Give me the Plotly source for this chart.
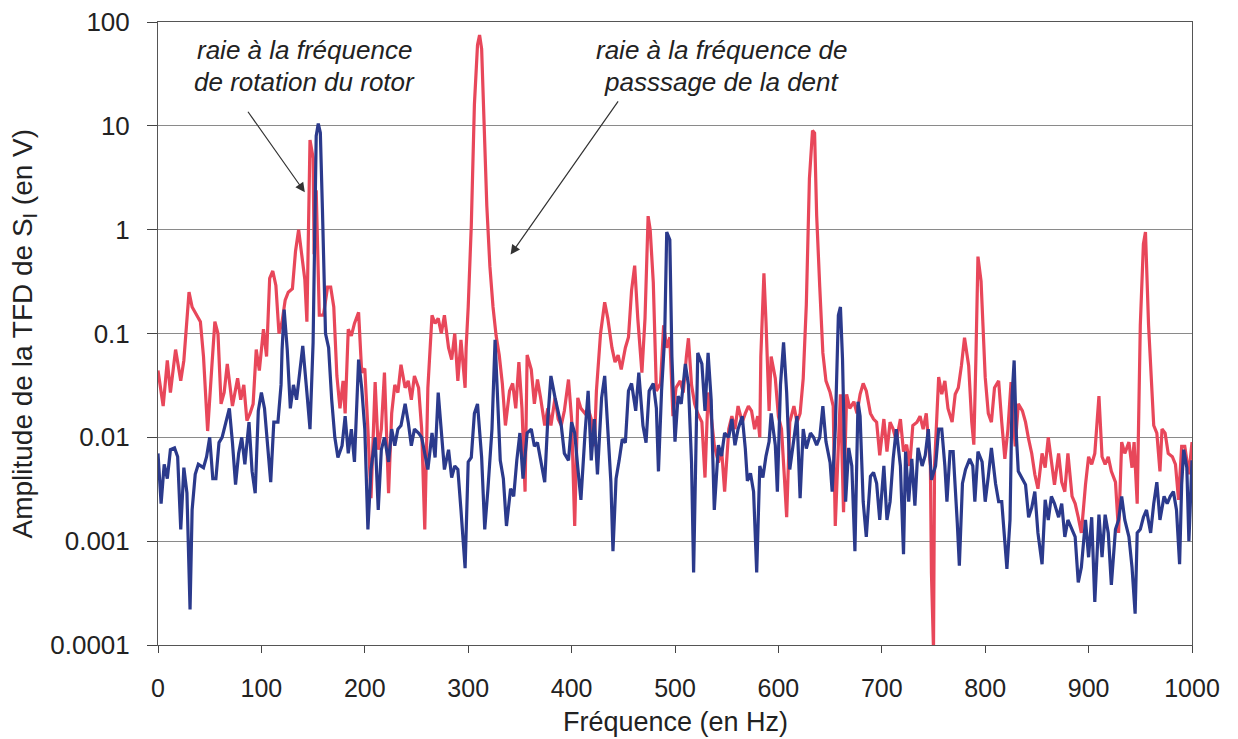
import plotly.graph_objects as go

# ---- data (frequency in Hz, amplitude in V) ----
red_freq = [0, 5, 9, 12, 17, 22, 25, 30, 33, 37, 41, 44, 48, 52, 55, 58, 61, 64, 67, 72, 77, 80, 83, 86, 89, 92, 95, 98,
            102, 105, 108, 111, 114, 117, 120, 123, 126, 130, 133, 136, 139, 142, 144, 145, 147, 150, 151, 153, 156,
            160, 164, 167, 170, 173, 176, 179, 181, 184, 187, 190, 194, 197, 200, 203, 206, 210, 213, 216, 219, 223,
            226, 229, 232, 235, 239, 242, 245, 248, 252, 255, 258, 261, 265, 268, 271, 274, 277, 281, 284, 287, 290,
            293, 297, 298, 300, 303, 306, 309, 311, 313, 315, 318, 321, 324, 327, 330, 333, 336, 340, 343, 346, 349,
            352, 355, 357, 361, 364, 367, 370, 374, 377, 380, 384, 387, 390, 393, 397, 400, 403, 406, 409, 413, 416,
            419, 422, 424, 428, 432, 435, 439, 442, 445, 448, 452, 455, 458, 461, 464, 468, 471, 474, 476, 479, 482,
            486, 489, 492, 495, 498, 501, 505, 508, 511, 513, 516, 519, 522, 526, 529, 532, 535, 538, 542, 545, 548,
            552, 555, 558, 561, 565, 568, 571, 574, 577, 580, 582, 583, 586, 588, 591, 593, 597, 600, 603, 606, 608,
            611, 615, 618, 621, 624, 627, 630, 633, 635, 637, 640, 643, 646, 650, 653, 655, 658, 660, 663, 666, 669,
            673, 676, 679, 682, 685, 689, 692, 695, 698, 702, 705, 708, 711, 714, 718, 721, 724, 727, 730, 734, 737,
            740, 743, 747, 748, 750, 751, 755, 758, 761, 764, 768, 771, 774, 777, 780, 784, 787, 789, 791, 793, 796,
            800, 803, 806, 809, 813, 816, 819, 822, 825, 829, 832, 836, 839, 842, 845, 848, 851, 855, 858, 861, 864,
            867, 871, 874, 877, 880, 884, 887, 890, 893, 897, 900, 903, 906, 910, 913, 916, 919, 922, 926, 929, 932,
            935, 939, 942, 944, 947, 950, 953, 955, 958, 963, 966, 969, 971, 974, 977, 981, 984, 987, 990, 993, 997,
            1000]
red_amp = [0.044, 0.02, 0.055, 0.027, 0.07, 0.035, 0.055, 0.25, 0.18, 0.15, 0.13, 0.06, 0.0115, 0.047, 0.13, 0.1,
           0.021, 0.027, 0.051, 0.02, 0.037, 0.023, 0.032, 0.0145, 0.017, 0.021, 0.07, 0.044,
           0.11, 0.06, 0.34, 0.40, 0.29, 0.1, 0.13, 0.21, 0.25, 0.27, 0.62, 1.0, 0.53, 0.33, 0.13, 0.73, 7.3, 4.9,
           0.58, 2.4, 0.15,
           0.15, 0.28, 0.28, 0.18, 0.039, 0.019, 0.035, 0.017, 0.11, 0.095, 0.125, 0.16, 0.042, 0.046, 0.012, 0.0026,
           0.034, 0.0076, 0.012, 0.042, 0.0029,
           0.017, 0.032, 0.027, 0.05, 0.03, 0.035, 0.023, 0.039, 0.03, 0.012, 0.0013, 0.03, 0.15, 0.125, 0.14, 0.1,
           0.15, 0.073, 0.056, 0.1, 0.035,
           0.087, 0.03, 0.073, 0.18, 1.1, 16, 60, 75, 55, 16, 1.7, 0.44, 0.18, 0.095, 0.062, 0.033, 0.013, 0.028,
           0.033, 0.019, 0.053,
           0.019, 0.003, 0.062, 0.045, 0.021, 0.036, 0.024, 0.013, 0.019, 0.013, 0.024, 0.015, 0.013, 0.018, 0.036,
           0.015, 0.0014, 0.024, 0.019, 0.017, 0.019,
           0.015, 0.0082, 0.028, 0.1, 0.2, 0.14, 0.073, 0.053, 0.062, 0.045, 0.073, 0.092, 0.26, 0.45, 0.14, 0.042,
           0.14, 1.35, 1.0, 0.31, 0.028,
           0.033, 0.12, 0.073, 0.092, 0.016, 0.03, 0.035, 0.027, 0.06, 0.09, 0.032, 0.021, 0.017, 0.014, 0.0041,
           0.027, 0.016, 0.0084, 0.0057, 0.0078, 0.003,
           0.012, 0.016, 0.012, 0.02, 0.014, 0.017, 0.02, 0.018, 0.012, 0.016, 0.01, 0.06, 0.38, 0.13, 0.018, 0.06,
           0.037, 0.016, 0.012, 0.0038, 0.0017,
           0.014, 0.02, 0.014, 0.017, 0.037, 0.19, 3.1, 9.0, 8.5, 1.37, 0.28, 0.065, 0.035, 0.027, 0.02, 0.0014,
           0.0084, 0.026, 0.0019, 0.026, 0.019,
           0.022, 0.017, 0.026, 0.033, 0.028, 0.017, 0.015, 0.014, 0.0067, 0.015, 0.0073, 0.014, 0.012, 0.0092,
           0.015, 0.0073, 0.0085, 0.0053, 0.013, 0.014, 0.016,
           0.012, 0.017, 0.0053, 0.0005, 0.00009, 0.0053, 0.038, 0.026, 0.035, 0.019, 0.014, 0.026, 0.03, 0.049,
           0.091, 0.049, 0.014, 0.0085, 0.057, 0.55, 0.32,
           0.038, 0.017, 0.014, 0.03, 0.035, 0.014, 0.0062, 0.012, 0.034, 0.0082, 0.021, 0.018, 0.014, 0.0096,
           0.007, 0.0044, 0.0032, 0.007, 0.0051, 0.01, 0.0055,
           0.0035, 0.007, 0.0037, 0.003, 0.007, 0.0027, 0.0023, 0.0017, 0.0012, 0.0035, 0.0065, 0.0055, 0.007,
           0.025, 0.0065, 0.0055, 0.0065, 0.0047, 0.0037, 0.0012, 0.009,
           0.007, 0.009, 0.0051, 0.009, 0.0023, 0.12, 0.73, 0.95, 0.12, 0.013, 0.011, 0.0047, 0.012, 0.011, 0.007,
           0.0065, 0.0055, 0.0025, 0.0082, 0.0082, 0.0044,
           0.009]

blue_freq = [0, 3, 6, 9, 12, 16, 19, 22, 25, 28, 31, 33, 36, 39, 44, 47, 50, 53, 56, 59, 62, 66, 69, 72, 75, 78, 81,
             84, 88, 91, 94, 97, 100, 103, 106, 109, 112, 116, 119, 120, 122, 125, 128, 131, 134, 138, 140, 144, 147,
             150, 151, 153, 155, 157, 159, 162, 165, 168, 171, 174, 178, 181, 184, 187, 190, 194, 197, 200, 203, 206,
             210, 213, 216, 219, 223, 226, 229, 232, 235, 239, 242, 245, 248, 252, 255, 258, 261, 265, 268, 271, 274,
             277, 281, 284, 287, 290, 293, 297, 300, 303, 306, 309, 313, 316, 319, 323, 326, 328, 331, 334, 337, 341,
             344, 347, 350, 353, 357, 361, 364, 367, 370, 374, 377, 380, 384, 387, 390, 393, 397, 400, 403, 406, 409,
             413, 416, 419, 422, 425, 429, 432, 435, 438, 440, 443, 446, 449, 452, 455, 458, 462, 465, 469, 472, 475,
             479, 482, 484, 487, 490, 492, 495, 497, 500, 503, 506, 510, 513, 516, 518, 521, 522, 526, 529, 532, 535,
             538, 542, 545, 548, 552, 555, 558, 561, 565, 568, 570, 573, 576, 579, 582, 585, 588, 591, 593, 597, 599,
             602, 605, 608, 611, 615, 618, 621, 624, 627, 631, 634, 637, 640, 643, 646, 650, 652, 655, 658, 660, 662,
             665, 668, 671, 674, 677, 679, 682, 685, 689, 692, 695, 698, 702, 705, 708, 711, 714, 718, 721, 723, 726,
             729, 732, 735, 739, 742, 745, 748, 752, 755, 758, 761, 763, 766, 769, 773, 775, 778, 781, 785, 788, 790,
             793, 797, 800, 803, 806, 810, 813, 816, 819, 821, 824, 826, 828, 830, 832, 836, 839, 842, 845, 848, 851,
             855, 858, 861, 864, 867, 871, 874, 877, 880, 884, 887, 890, 893, 897, 900, 903, 906, 910, 913, 916, 919,
             922, 926, 929, 932, 935, 939, 942, 945, 947, 950, 953, 956, 960, 963, 966, 969, 973, 976, 979, 982, 985,
             988, 990, 992, 995, 997, 1000]
blue_amp = [0.007, 0.0023, 0.0055, 0.004, 0.0076, 0.0079, 0.0065, 0.0013, 0.0051, 0.0029, 0.00022, 0.002, 0.0044,
            0.0055, 0.0051, 0.0065, 0.01, 0.004, 0.004, 0.0089, 0.01, 0.015, 0.019, 0.0089, 0.0035, 0.007, 0.01,
            0.0055, 0.014, 0.0047, 0.0029, 0.018, 0.027, 0.019, 0.0089, 0.0037, 0.014, 0.014, 0.032, 0.07, 0.17,
            0.07, 0.019, 0.032, 0.023, 0.047, 0.076, 0.027, 0.012,
            0.082, 0.34, 8.0, 10.5, 8.6, 1.6, 0.1, 0.073, 0.023, 0.01, 0.0064, 0.0083, 0.016, 0.007, 0.012, 0.0058,
            0.056, 0.03, 0.012, 0.0013, 0.0049,
            0.01, 0.002, 0.0076, 0.01, 0.0058, 0.012, 0.0083, 0.012, 0.013, 0.021, 0.014, 0.0083, 0.012, 0.011, 0.01,
            0.007, 0.0049, 0.011, 0.0064, 0.027, 0.012,
            0.0049, 0.0076, 0.0041, 0.0053, 0.0049, 0.002, 0.00055, 0.0058, 0.0064, 0.017, 0.021, 0.0064, 0.0013,
            0.0031, 0.012, 0.087, 0.028, 0.006, 0.004, 0.0014, 0.0032,
            0.0027, 0.006, 0.011, 0.004, 0.011, 0.012, 0.0082, 0.0089, 0.006, 0.0037, 0.015, 0.039, 0.024, 0.017,
            0.013, 0.007, 0.006, 0.014, 0.011, 0.0051, 0.0025,
            0.011, 0.028, 0.006, 0.015, 0.0044, 0.024, 0.039, 0.013, 0.0037, 0.0008, 0.004, 0.006, 0.0096, 0.0089,
            0.028, 0.033, 0.018, 0.042, 0.013, 0.0089, 0.028,
            0.033, 0.019, 0.0047, 0.028, 0.092, 0.95, 0.8, 0.06, 0.0091, 0.025, 0.021, 0.051, 0.032, 0.0057, 0.0005,
            0.025, 0.065, 0.051, 0.018, 0.065, 0.023,
            0.002, 0.0084, 0.0066, 0.011, 0.01, 0.015, 0.0084, 0.012, 0.016, 0.0078, 0.0038, 0.0045, 0.003, 0.0005,
            0.0053, 0.0041, 0.0066, 0.0091, 0.017, 0.0084, 0.003,
            0.032, 0.082, 0.027, 0.0049, 0.0091, 0.016, 0.0026, 0.012, 0.0078, 0.011, 0.01, 0.0084, 0.01, 0.02,
            0.0091, 0.0057, 0.003, 0.012, 0.15, 0.18, 0.057,
            0.0024, 0.0079, 0.0053, 0.0008, 0.022, 0.016, 0.0024, 0.0011, 0.0042, 0.0046, 0.0036, 0.0016, 0.0053,
            0.0016, 0.0024, 0.0062, 0.012, 0.0053, 0.00075, 0.0073, 0.0024,
            0.0062, 0.0022, 0.0079, 0.0053, 0.0067, 0.012, 0.0039, 0.0053, 0.012, 0.012, 0.0053, 0.0024, 0.0073,
            0.0073, 0.0015, 0.00058, 0.0036, 0.0049, 0.0062, 0.0053, 0.0024,
            0.0073, 0.0058, 0.0024, 0.0042, 0.0079, 0.0036, 0.0024, 0.0024, 0.0011, 0.00054, 0.0016, 0.025, 0.055,
            0.011, 0.0047, 0.004, 0.0035, 0.0017, 0.0021, 0.003, 0.0012,
            0.0006, 0.0025, 0.0016, 0.0027, 0.0023, 0.0017, 0.0023, 0.0011, 0.0016, 0.0013, 0.0011, 0.0004, 0.00056,
            0.0016, 0.0007, 0.0017, 0.00026, 0.0018, 0.0007, 0.0018, 0.0012,
            0.00038, 0.0013, 0.0016, 0.0027, 0.0016, 0.0011, 0.00056, 0.0002, 0.0012, 0.0013, 0.0017, 0.002, 0.0012,
            0.0023, 0.0037, 0.0016, 0.0027, 0.0023, 0.0027, 0.003, 0.002,
            0.0006, 0.0035, 0.0076, 0.0051, 0.001, 0.006]

y_tickvals = [0.0001, 0.001, 0.01, 0.1, 1, 10, 100]
y_ticktext = ["0.0001", "0.001", "0.01", "0.1", "1", "10", "100"]
x_tickvals = [0, 100, 200, 300, 400, 500, 600, 700, 800, 900, 1000]

x_title = "Fréquence (en Hz)"
y_title = "Amplitude de la TFD de S<sub>I</sub> (en V)"
label_rotor = ["raie à la fréquence", "de rotation du rotor"]
label_dent = ["raie à la fréquence de", "passsage de la dent"]

RED = "#E8475A"
BLUE = "#2B3A8C"
FONT = "Liberation Sans, Arial, sans-serif"

fig = go.Figure()
fig.add_trace(go.Scatter(x=red_freq, y=red_amp, mode="lines",
                         line=dict(color=RED, width=3.2), name="rouge"))
fig.add_trace(go.Scatter(x=blue_freq, y=blue_amp, mode="lines",
                         line=dict(color=BLUE, width=3.2), name="bleu"))

# the page body adds an 8 px offset, margins compensate for it
fig.update_layout(
    width=1238, height=739,
    margin=dict(l=150, r=54, t=14, b=102),
    paper_bgcolor="white", plot_bgcolor="white",
    showlegend=False,
    font=dict(family=FONT, color="#222", size=26),
)
fig.update_xaxes(
    range=[0, 1000], tickvals=x_tickvals, showgrid=False,
    ticks="outside", ticklen=7, tickcolor="#444",
    showline=True, linecolor="#555", linewidth=1, mirror=True,
    tickfont=dict(size=25), ticklabelstandoff=14, zeroline=False,
    ticklabeloverflow="allow", automargin=False,
)
fig.update_yaxes(
    type="log", range=[-4, 2], tickvals=y_tickvals, ticktext=y_ticktext,
    showgrid=True, gridcolor="#8a8a8a", gridwidth=1,
    ticks="outside", ticklen=10, tickcolor="#444",
    showline=True, linecolor="#555", linewidth=1, mirror=True,
    tickfont=dict(size=26), ticklabelstandoff=12, zeroline=False,
    ticklabeloverflow="allow", automargin=False,
)

ann = []
# axis titles
ann.append(dict(text=x_title, xref="paper", yref="paper", x=0.5, y=0, yshift=-77,
                showarrow=False, font=dict(size=27), xanchor="center", yanchor="middle"))
ann.append(dict(text=y_title, xref="paper", yref="paper", x=0, y=0.5, xshift=-134,
                showarrow=False, textangle=-90, font=dict(size=28), xanchor="center", yanchor="middle"))
# label texts
for i, line in enumerate(label_rotor):
    ann.append(dict(text="<i>" + line + "</i>", xref="paper", yref="paper", x=0.142, y=0.955 - 0.052 * i,
                    showarrow=False, font=dict(size=26), xanchor="center", yanchor="middle"))
for i, line in enumerate(label_dent):
    ann.append(dict(text="<i>" + line + "</i>", xref="paper", yref="paper", x=0.545, y=0.955 - 0.052 * i,
                    showarrow=False, font=dict(size=26), xanchor="center", yanchor="middle"))
# arrows (tip in data coords, log10 for y)
ann.append(dict(x=142, y=0.36, ax=86, ay=1.15, xref="x", yref="y", axref="x", ayref="y", text="",
                showarrow=True, arrowhead=2, arrowsize=1.6, arrowwidth=1.2, arrowcolor="#333"))
ann.append(dict(x=341, y=-0.24, ax=446, ay=1.25, xref="x", yref="y", axref="x", ayref="y", text="",
                showarrow=True, arrowhead=2, arrowsize=1.6, arrowwidth=1.2, arrowcolor="#333"))
fig.update_layout(annotations=ann)

fig.write_html("out.html")
